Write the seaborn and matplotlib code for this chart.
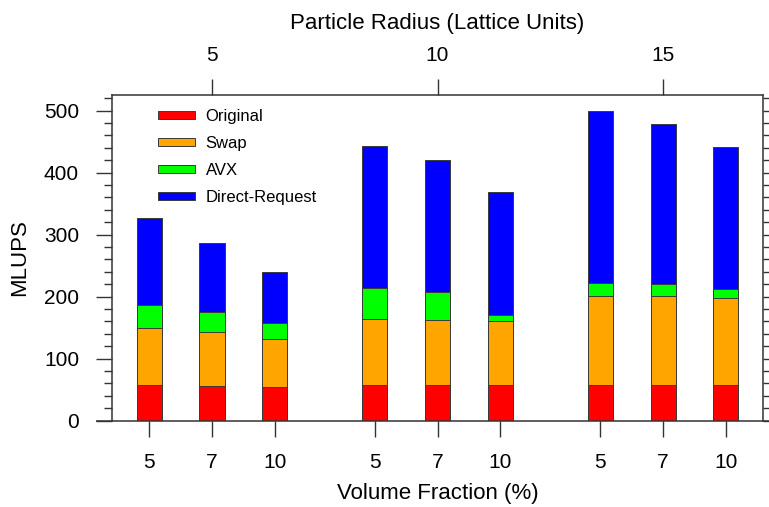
import matplotlib
matplotlib.use("Agg")
import matplotlib.pyplot as plt
import matplotlib.patches as mpatches
from matplotlib.ticker import MultipleLocator, FixedLocator, NullLocator
import numpy as np
import pandas as pd
import seaborn as sns

# ---------------- data ----------------
volume_fraction_labels = ["5", "7", "10"]
radius_labels = ["5", "10", "15"]
series_names = ["Original", "Swap", "AVX", "Direct-Request"]
original = [57, 56, 55, 57, 57, 57, 58, 58, 58]
swap = [92.5, 87.5, 77.5, 107, 105.5, 103, 143.5, 143.5, 139]
avx = [37, 32, 25, 49.5, 45.5, 10, 20, 18.5, 15.5]
direct_request = [141, 111, 82, 229, 213, 198, 278.5, 258, 229]
colors = ["#ff0000", "#ffa500", "#00ff00", "#0000ff"]

# ---------------- layout ----------------
group_step = 3.6
n_groups = len(radius_labels)
n_in_group = len(volume_fraction_labels)
positions = [g * group_step + i for g in range(n_groups) for i in range(n_in_group)]
group_centers = [g * group_step + (n_in_group - 1) / 2 for g in range(n_groups)]

df = pd.DataFrame({"pos": positions,
                   "Original": original, "Swap": swap,
                   "AVX": avx, "Direct-Request": direct_request})
cum = df[series_names].cumsum(axis=1)
for name in series_names:
    df["top_" + name] = cum[name]

sns.set_style("ticks")
plt.rcParams["font.family"] = ["Liberation Sans", "DejaVu Sans"]
plt.rcParams["text.color"] = "black"
plt.rcParams["axes.labelcolor"] = "black"
plt.rcParams["xtick.color"] = "black"
plt.rcParams["ytick.color"] = "black"

fig = plt.figure(figsize=(7.69, 5.07), dpi=100)
ax = fig.add_axes([0.1453, 0.1702, 0.8473, 0.6424])

line_col = "#333333"
for name, color in reversed(list(zip(series_names, colors))):
    sns.barplot(data=df, x="pos", y="top_" + name, native_scale=True, width=0.4,
                color=color, saturation=1, edgecolor="#3a3a3a", linewidth=0.7,
                errorbar=None, ax=ax)

ax.set_xlim(-0.6, 9.8)
ax.set_ylim(0, 525)

for s in ["left", "right", "top"]:
    ax.spines[s].set_visible(True)
    ax.spines[s].set_color(line_col)
    ax.spines[s].set_linewidth(1.1)
ax.spines["bottom"].set_visible(False)
ax.plot([-0.024, 1.02], [0, 0], transform=ax.transAxes, clip_on=False,
        color=line_col, lw=1.1, solid_capstyle="butt")

# y axis
ax.yaxis.set_major_locator(MultipleLocator(100))
ax.yaxis.set_minor_locator(MultipleLocator(20))
ax.tick_params(axis="y", which="both", left=True, right=True, direction="out",
               color=line_col, width=1.0, labelsize=15, pad=12, labelcolor="black")
ax.tick_params(axis="y", which="major", length=11.5)
ax.tick_params(axis="y", which="minor", length=5.8)
ax.set_ylabel("MLUPS", fontsize=16, labelpad=10)

# bottom x axis
ax.xaxis.set_major_locator(FixedLocator(positions))
ax.xaxis.set_minor_locator(NullLocator())
ax.set_xticklabels(volume_fraction_labels * n_groups)
ax.tick_params(axis="x", which="major", bottom=True, top=False, direction="out",
               length=11.5, width=1.0, color=line_col, labelsize=15, pad=12,
               labelcolor="black")
ax.set_xlabel("Volume Fraction (%)", fontsize=16, labelpad=8)

# top x axis
secax = ax.secondary_xaxis("top")
secax.xaxis.set_major_locator(FixedLocator(group_centers))
secax.xaxis.set_minor_locator(NullLocator())
secax.set_xticklabels(radius_labels)
secax.tick_params(axis="x", direction="out", length=11.5, width=1.0,
                  color=line_col, labelsize=15, pad=10, labelcolor="black")
secax.spines["top"].set_visible(False)
secax.set_xlabel("Particle Radius (Lattice Units)", fontsize=16, labelpad=12)

# legend
handles = [mpatches.Patch(facecolor=c, edgecolor="#3a3a3a", linewidth=0.7, label=n)
           for n, c in zip(series_names, colors)]
ax.legend(handles=handles, loc="upper left", bbox_to_anchor=(0.071, 0.957),
          frameon=False, fontsize=12, handlelength=2.2, handleheight=0.42,
          handletextpad=0.65, labelspacing=0.72, borderpad=0, borderaxespad=0)

fig.savefig("out.png", dpi=100)
